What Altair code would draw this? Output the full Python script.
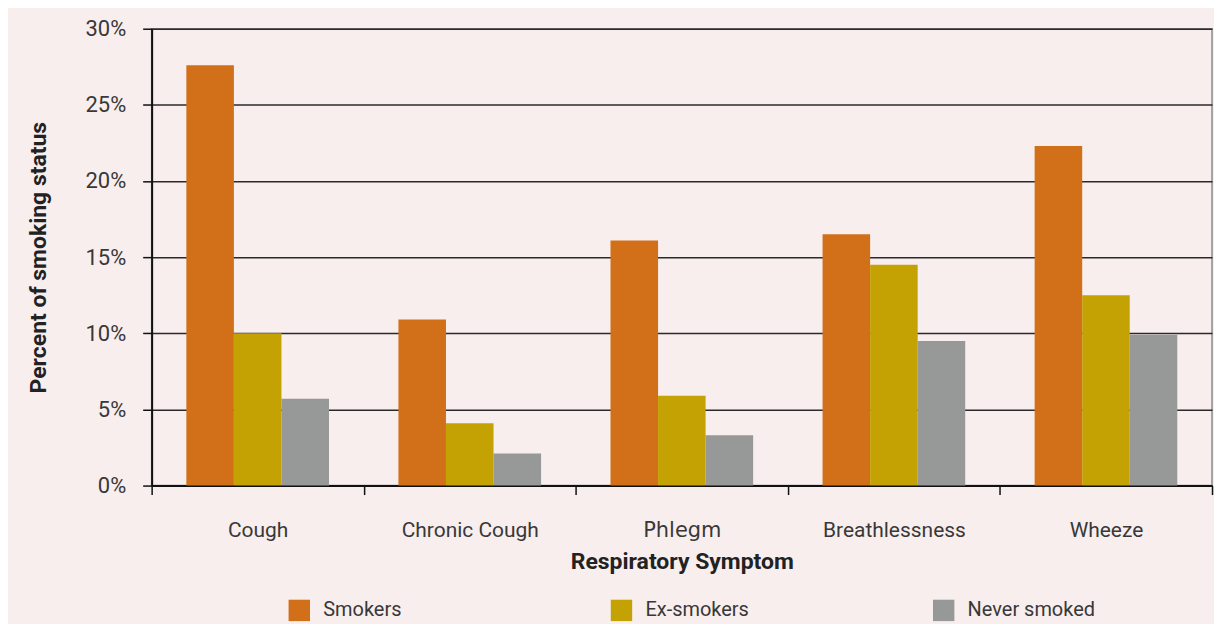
import altair as alt
import pandas as pd

symptoms = ["Cough", "Chronic Cough", "Phlegm", "Breathlessness", "Wheeze"]
statuses = ["Smokers", "Ex-smokers", "Never smoked"]
smokers = [27.6, 10.9, 16.1, 16.5, 22.3]
ex_smokers = [10.0, 4.1, 5.9, 14.5, 12.5]
never_smoked = [5.7, 2.1, 3.3, 9.5, 9.9]
colors = ["#d26f19", "#c4a204", "#979998"]
y_ticks = [0, 5, 10, 15, 20, 25, 30]

rows = []
for i, s in enumerate(symptoms):
    for st, vals in zip(statuses, [smokers, ex_smokers, never_smoked]):
        rows.append({"symptom": s, "status": st, "value": vals[i]})
df = pd.DataFrame(rows)

FONT = "Roboto"
TXT = "#383838"

chart = alt.Chart(df).mark_bar().encode(
    x=alt.X("symptom:N", sort=symptoms,
            scale=alt.Scale(paddingInner=0, paddingOuter=0),
            axis=alt.Axis(title="Respiratory Symptom", labelAngle=0,
                          tickBand="extent", tickSize=9, tickWidth=1.5, tickColor="#111",
                          domainColor="#111", domainWidth=2,
                          labelFontSize=21,
                          labelColor=TXT, labelPadding=25,
                          labelFont={"condition": {"test": "datum.value == 'Phlegm'", "value": "DejaVu Sans"}, "value": FONT},
                          titleFont=FONT, titleFontSize=23, titleFontWeight="bold", titleColor="#222",
                          titlePadding=10, grid=False)),
    xOffset=alt.XOffset("status:N", sort=statuses,
                        scale=alt.Scale(paddingInner=0, paddingOuter=0.73)),
    y=alt.Y("value:Q", scale=alt.Scale(domain=[0, 30], nice=False),
            axis=alt.Axis(title="Percent of smoking status", values=y_ticks,
                          labelExpr="datum.value + '%'",
                          tickSize=9, tickWidth=1.5, tickColor="#111",
                          domainColor="#111", domainWidth=2,
                          gridColor="#2a2a2a", gridWidth=1.5,
                          labelFont=FONT, labelFontSize=22, labelColor=TXT, labelPadding=17,
                          titleFont=FONT, titleFontSize=23, titleFontWeight="bold", titleColor="#222",
                          titlePadding=35)),
    color=alt.Color("status:N", sort=statuses,
                    scale=alt.Scale(domain=statuses, range=colors),
                    legend=alt.Legend(title=None, orient="none", legendX=137, legendY=572,
                                      direction="horizontal", columns=3, gridAlign="all",
                                      columnPadding=160, padding=0,
                                      symbolType="square", symbolSize=460, symbolStrokeWidth=0,
                                      symbolOpacity=1,
                                      labelFont=FONT, labelFontSize=20, labelColor=TXT,
                                      labelOffset=13)),
).properties(
    width=1063, height=458,
    autosize=alt.AutoSizeParams(type="none"),
    padding={"left": 144, "top": 20, "right": 2, "bottom": 138},
    background="#f8eeee",
).configure_view(stroke="#8a8a8a", strokeWidth=1.5)

chart.save("out.html", embed_options={"renderer": "svg", "actions": False})
